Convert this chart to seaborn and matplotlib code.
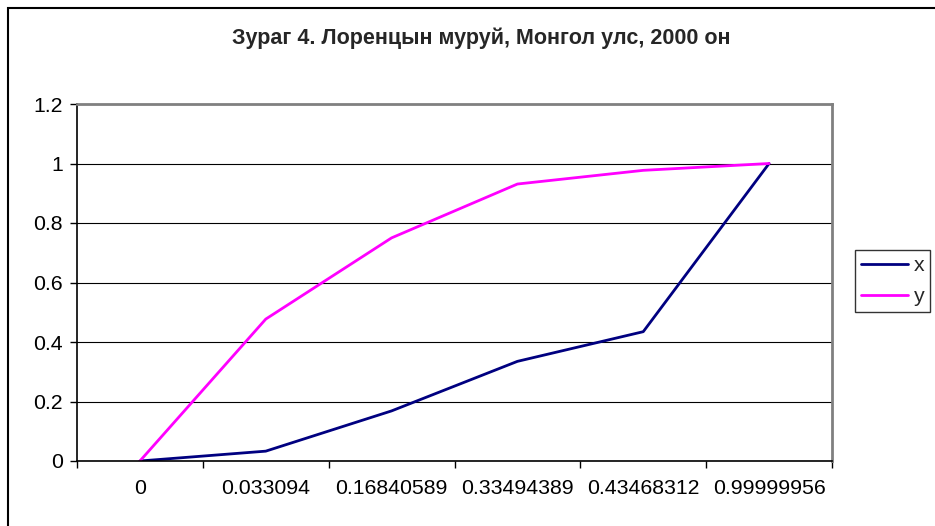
import pandas as pd
import seaborn as sns
import matplotlib.pyplot as plt
from matplotlib.patches import Rectangle

# category labels on the x axis (cumulative population share)
categories = ['0', '0.033094', '0.16840589', '0.33494389', '0.43468312', '0.99999956']
x_values = [0, 0.033094, 0.16840589, 0.33494389, 0.43468312, 0.99999956]
y_values = [0, 0.477, 0.75, 0.931, 0.977, 1.0]
title = 'Зураг 4. Лоренцын муруй, Монгол улс, 2000 он'

df = pd.DataFrame({
    'pos': list(range(len(categories))) * 2,
    'value': x_values + y_values,
    'series': ['x'] * len(categories) + ['y'] * len(categories),
})

sns.set_style('white')
plt.rcParams['font.family'] = ['Liberation Sans', 'DejaVu Sans']

fig = plt.figure(figsize=(9.35, 5.26), dpi=100)
ax = fig.add_axes([77 / 935, 1 - 461 / 526, (832 - 77) / 935, (461 - 104) / 526])

sns.lineplot(data=df, x='pos', y='value', hue='series',
             palette={'x': '#000080', 'y': '#FF00FF'},
             linewidth=2, ax=ax, legend=False)

ax.set_xlim(-0.5, 5.5)
ax.set_ylim(0, 1.2)
ax.set_yticks([0, 0.2, 0.4, 0.6, 0.8, 1.0, 1.2])
ax.set_yticklabels(['0', '0.2', '0.4', '0.6', '0.8', '1', '1.2'])
ax.set_xticks(range(len(categories)))
ax.set_xticklabels(categories)
ax.set_xticks([i - 0.5 for i in range(len(categories) + 1)], minor=True)
ax.tick_params(axis='x', which='major', length=0, pad=13, labelsize=15.3, colors='black')
ax.tick_params(axis='x', which='minor', length=5, width=1, direction='out', bottom=True, color='black')
ax.tick_params(axis='y', length=5, width=1, direction='out', left=True, pad=5,
               labelsize=15.3, colors='black')
ax.set_xlabel('')
ax.set_ylabel('')

ax.grid(axis='y', color='black', linewidth=0.8)
ax.set_axisbelow(True)
for side in ['top', 'right']:
    ax.spines[side].set_color('#808080')
    ax.spines[side].set_linewidth(2)
for side in ['left', 'bottom']:
    ax.spines[side].set_color('black')
    ax.spines[side].set_linewidth(1.2)

# legend
h1, = ax.plot([], [], color='#000080', linewidth=2, label='x')
h2, = ax.plot([], [], color='#FF00FF', linewidth=2, label='y')
leg = fig.legend(handles=[h1, h2], loc='upper left',
                 bbox_to_anchor=(855 / 935, 1 - 250 / 526),
                 frameon=True, fancybox=False, fontsize=15.3,
                 handlelength=2.2, handletextpad=0.25, borderpad=0.3,
                 labelspacing=0.55, borderaxespad=0)
leg.get_frame().set_edgecolor('black')
leg.get_frame().set_linewidth(1)

fig.text(481 / 935, 1 - 38 / 526, title, ha='center', va='center',
         fontsize=15.5, fontweight='bold')

# chart border, runs off the right and bottom edge
fig.patches.append(Rectangle((8 / 935, -0.1), 1.2, 1 - 8 / 526 + 0.1,
                             transform=fig.transFigure, fill=False,
                             edgecolor='black', linewidth=1.5))

fig.savefig('out.png', dpi=100)
